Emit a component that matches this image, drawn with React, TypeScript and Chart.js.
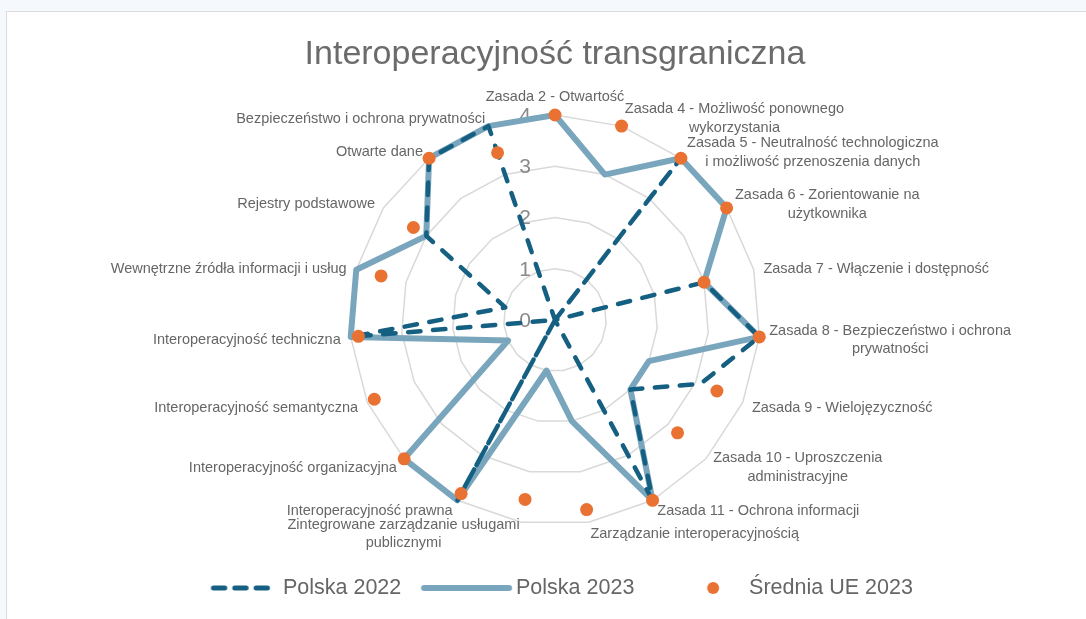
import React, { useEffect, useRef } from "react";
import { Chart, registerables } from "chart.js";

Chart.register(...registerables);

// ---------- data ----------
const chartTitle = "Interoperacyjność transgraniczna";

const categories: (string | string[])[] = [
  "Zasada 2 - Otwartość",
  ["Zasada 4 - Możliwość ponownego", "wykorzystania"],
  ["Zasada 5 - Neutralność technologiczna", "i możliwość przenoszenia danych"],
  ["Zasada 6 - Zorientowanie na", "użytkownika"],
  "Zasada 7 - Włączenie i dostępność",
  ["Zasada 8 - Bezpieczeństwo i ochrona", "prywatności"],
  "Zasada 9 - Wielojęzyczność",
  ["Zasada 10 - Uproszczenia", "administracyjne"],
  "Zasada 11 - Ochrona informacji",
  "Zarządzanie interoperacyjnością",
  ["Zintegrowane zarządzanie usługami", "publicznymi"],
  "Interoperacyjność prawna",
  "Interoperacyjność organizacyjna",
  "Interoperacyjność semantyczna",
  "Interoperacyjność techniczna",
  "Wewnętrzne źródła informacji i usług",
  "Rejestry podstawowe",
  "Otwarte dane",
  "Bezpieczeństwo i ochrona prywatności",
];

const polska2022 = [0, 0, 4, 0, 3, 4, 3.1, 2, 4, 0, 0, 4, 0, 0, 4, 1, 3, 4, 4];
const polska2023 = [4, 3, 4, 4, 3, 4, 2, 2, 4, 2, 1, 4, 4, 1, 4, 4, 3, 4, 4];
const sredniaUE2023 = [4, 4, 4, 4, 3, 4, 3.45, 3.25, 4, 3.75, 3.55, 3.85, 4, 3.85, 3.85, 3.5, 3.3, 4, 3.45];

const seriesNames = ["Polska 2022", "Polska 2023", "Średnia UE 2023"];
const tickMin = 0;
const tickMax = 4;
const tickStep = 1;

// ---------- styles ----------
const COLOR_2022 = "#156082";
const COLOR_2023 = "#7AA6BD";
const COLOR_EU = "#E97132";
const TEXT = "#666666";
const FONT = "'Liberation Sans', Arial, sans-serif";

function makeIcon(kind: "dash" | "line" | "dot", relStart: number, relEnd: number) {
  const half = Math.ceil(Math.max(Math.abs(relStart), Math.abs(relEnd)) + 8);
  const c = document.createElement("canvas");
  c.width = half * 2;
  c.height = 16;
  const ctx = c.getContext("2d")!;
  const y = 8;
  const x0 = half + relStart;
  const x1 = half + relEnd;
  if (kind === "dash") {
    const lw = 5;
    const n = 3;
    const gap = 5;
    const len = (x1 - x0 - gap * (n - 1)) / n;
    ctx.strokeStyle = COLOR_2022;
    ctx.lineWidth = lw;
    ctx.lineCap = "round";
    for (let k = 0; k < n; k++) {
      const s = x0 + k * (len + gap);
      ctx.beginPath();
      ctx.moveTo(s + lw / 2, y);
      ctx.lineTo(s + len - lw / 2, y);
      ctx.stroke();
    }
  } else if (kind === "line") {
    ctx.strokeStyle = COLOR_2023;
    ctx.lineWidth = 6;
    ctx.lineCap = "round";
    ctx.beginPath();
    ctx.moveTo(x0 + 3, y);
    ctx.lineTo(x1 - 3, y);
    ctx.stroke();
  } else {
    ctx.fillStyle = COLOR_EU;
    ctx.beginPath();
    ctx.arc(x0, y, 6, 0, Math.PI * 2);
    ctx.fill();
  }
  return c;
}

const radarTextPlugin = {
  id: "radarText",
  beforeDatasetsDraw(chart: any) {
    const scale = chart.scales.r;
    const ctx = chart.ctx as CanvasRenderingContext2D;
    ctx.save();
    // tick labels (left of the vertical axis)
    ctx.font = `21px ${FONT}`;
    ctx.fillStyle = "#8a8a8a";
    ctx.textAlign = "right";
    ctx.textBaseline = "middle";
    scale.ticks.forEach((t: any) => {
      const d = scale.getDistanceFromCenterForValue(t.value);
      ctx.fillText(String(t.value), scale.xCenter - 24, scale.yCenter - d + 1);
    });
    // category labels
    ctx.font = `14.5px ${FONT}`;
    ctx.fillStyle = TEXT;
    ctx.textAlign = "center";
    ctx.textBaseline = "middle";
    const labels = chart.data.labels as (string | string[])[];
    const n = labels.length;
    const lh = 18.5;
    labels.forEach((lab, i) => {
      const lines = Array.isArray(lab) ? lab : [lab];
      const pos = scale.getPointPosition(i, scale.drawingArea + 10);
      const deg = (i * 360) / n;
      const w = Math.max(...lines.map((l) => ctx.measureText(l).width));
      const h = lines.length * lh;
      let left: number;
      let top: number;
      if (deg < 0.5) {
        left = pos.x - w / 2;
        top = pos.y - h + 1;
      } else if (Math.abs(deg - 180) < 0.5) {
        left = pos.x - w / 2;
        top = pos.y;
      } else if (deg < 180) {
        left = pos.x;
        top = pos.y - h / 2 + 2;
      } else {
        left = pos.x - w;
        top = pos.y - h / 2 + 2;
      }
      lines.forEach((l, k) => ctx.fillText(l, left + w / 2, top + lh * (k + 0.5)));
    });
    ctx.restore();
  },
};

export default function App() {
  const ref = useRef<HTMLCanvasElement>(null);

  useEffect(() => {
    if (!ref.current) return;
    const icons = [
      makeIcon("dash", -23.75, 35.25),
      makeIcon("line", -46.75, 44.25),
      makeIcon("dot", 12.25, 12.25),
    ];
    const chart = new Chart(ref.current, {
      type: "radar",
      data: {
        labels: categories,
        datasets: [
          {
            label: seriesNames[0],
            data: polska2022,
            borderColor: COLOR_2022,
            backgroundColor: COLOR_2022,
            borderWidth: 4.5,
            borderDash: [12.5, 12.5],
            borderCapStyle: "round",
            borderJoinStyle: "round",
            pointRadius: 0,
            pointHoverRadius: 0,
            fill: false,
            order: 1,
          },
          {
            label: seriesNames[1],
            data: polska2023,
            borderColor: COLOR_2023,
            backgroundColor: COLOR_2023,
            borderWidth: 6,
            borderJoinStyle: "round",
            borderCapStyle: "round",
            pointRadius: 0,
            pointHoverRadius: 0,
            fill: false,
            order: 2,
          },
          {
            label: seriesNames[2],
            data: sredniaUE2023,
            showLine: false,
            borderColor: COLOR_EU,
            backgroundColor: COLOR_EU,
            pointBackgroundColor: COLOR_EU,
            pointBorderWidth: 0,
            pointRadius: 6.5,
            pointHoverRadius: 6.5,
            fill: false,
            order: 0,
          },
        ],
      },
      options: {
        responsive: false,
        animation: false,
        devicePixelRatio: 1,
        layout: { padding: { left: 17, right: 0, top: 0, bottom: 10.25 } },
        elements: { line: { tension: 0 } },
        scales: {
          r: {
            min: tickMin,
            max: tickMax,
            ticks: { display: false, stepSize: tickStep },
            pointLabels: { display: false },
            grid: { circular: false, color: "#D9D9D9", lineWidth: 1.5 },
            angleLines: { display: false },
          },
        },
        plugins: {
          tooltip: { enabled: false },
          title: {
            display: true,
            text: chartTitle,
            color: "#6b6b6b",
            font: { family: FONT, size: 34, weight: "normal", lineHeight: 1.2 },
            padding: { top: 22.6, bottom: 39.6 },
          },
          legend: {
            display: true,
            position: "bottom",
            title: {
              display: true,
              text: " ",
              font: { size: 10, lineHeight: 1 },
              padding: { top: 13.25, bottom: 0 },
            },
            labels: {
              usePointStyle: true,
              pointStyleWidth: 75,
              padding: 29,
              color: TEXT,
              font: { family: FONT, size: 21.5 },
              generateLabels: (ch: any) =>
                ch.data.datasets.map((ds: any, i: number) => ({
                  text: ds.label,
                  pointStyle: icons[i],
                  fillStyle: "transparent",
                  strokeStyle: "transparent",
                  lineWidth: 0,
                  hidden: !ch.isDatasetVisible(i),
                  datasetIndex: i,
                  fontColor: TEXT,
                })),
            },
          },
        },
      },
      plugins: [radarTextPlugin],
    } as any);
    return () => chart.destroy();
  }, []);

  return (
    <div style={{ position: "fixed", inset: 0, background: "#F5F8FD", overflow: "hidden" }}>
      <div
        style={{
          position: "absolute",
          left: 6,
          top: 11,
          width: 1100,
          height: 620,
          background: "#ffffff",
          borderTop: "1px solid #DCDCDC",
          borderLeft: "1px solid #DCDCDC",
        }}
      >
        <canvas ref={ref} width={1079} height={607} style={{ display: "block", width: 1079, height: 607 }} />
      </div>
    </div>
  );
}
